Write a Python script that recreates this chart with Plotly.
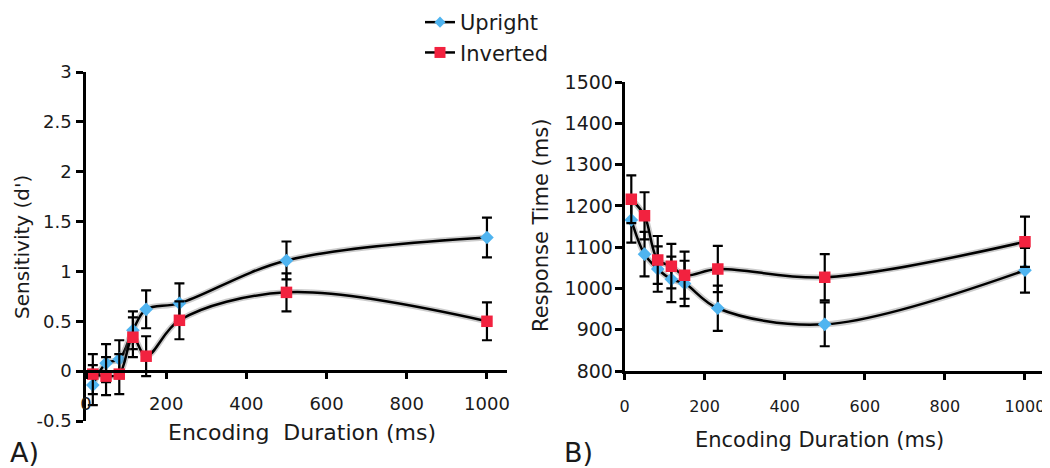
import plotly.graph_objects as go

# ---- data ----
durations = [17, 50, 83, 117, 150, 233, 500, 1000]

dprime_upright = [-0.14, 0.08, 0.12, 0.41, 0.62, 0.68, 1.11, 1.34]
dprime_upright_err = [0.20, 0.19, 0.19, 0.19, 0.19, 0.20, 0.19, 0.20]
dprime_inverted = [-0.03, -0.05, -0.03, 0.34, 0.15, 0.51, 0.79, 0.50]
dprime_inverted_err = [0.20, 0.19, 0.20, 0.20, 0.20, 0.19, 0.19, 0.19]

rt_upright = [1166, 1083, 1047, 1022, 1012, 952, 913, 1044]
rt_upright_err = [55, 54, 55, 55, 55, 55, 53, 54]
rt_inverted = [1216, 1176, 1069, 1054, 1032, 1047, 1027, 1113]
rt_inverted_err = [58, 57, 58, 54, 57, 56, 56, 61]

x_ticks = [0, 200, 400, 600, 800, 1000]
dprime_ticks = [-0.5, 0, 0.5, 1, 1.5, 2, 2.5, 3]
dprime_ticktext = ["-0.5", "0", "0.5", "1", "1.5", "2", "2.5", "3"]
rt_ticks = [800, 900, 1000, 1100, 1200, 1300, 1400, 1500]

# the page body adds an 8px margin, so the figure is drawn 8px smaller
OFF = 8
W, H = 1050 - OFF, 468 - OFF
FONT = "DejaVu Sans, Verdana, sans-serif"
BLUE = "#4FB4F0"
RED = "#F2223F"
INK = "#1a1a1a"


def px(x):
    return (x - OFF) / W


def py(y):
    # screen y (from top) -> paper fraction (from bottom)
    return 1 - (y - OFF) / H


fig = go.Figure()


def add_series(x, y, err, xa, ya, name, color, symbol, size):
    # soft shadow under the line
    fig.add_trace(go.Scatter(
        x=x, y=y, xaxis=xa, yaxis=ya, mode="lines",
        line=dict(color="rgba(110,110,110,0.35)", width=6, shape="spline", smoothing=1),
        showlegend=False, hoverinfo="skip"))
    fig.add_trace(go.Scatter(
        x=x, y=y, xaxis=xa, yaxis=ya, mode="lines+markers", name=name,
        line=dict(color="black", width=2.5, shape="spline", smoothing=1),
        marker=dict(color=color, symbol=symbol, size=size, line=dict(width=0)),
        error_y=dict(type="data", array=err, visible=True, color="black",
                     thickness=2.2, width=5),
        showlegend=False))


add_series(durations, dprime_upright, dprime_upright_err, "x", "y",
           "Upright", BLUE, "diamond", 10.5)
add_series(durations, dprime_inverted, dprime_inverted_err, "x", "y",
           "Inverted", RED, "square", 11.5)
add_series(durations, rt_upright, rt_upright_err, "x2", "y2",
           "Upright", BLUE, "diamond", 10.5)
add_series(durations, rt_inverted, rt_inverted_err, "x2", "y2",
           "Inverted", RED, "square", 11.5)

# legend-only entries (smaller symbols, as in the original legend)
for name, color, symbol, size in [("Upright", BLUE, "diamond", 8.5),
                                  ("Inverted", RED, "square", 11)]:
    fig.add_trace(go.Scatter(
        x=[None], y=[None], mode="lines+markers", name=name,
        line=dict(color="black", width=2.5),
        marker=dict(color=color, symbol=symbol, size=size, line=dict(width=0)),
        showlegend=True))

axis_common = dict(showgrid=False, zeroline=False, showline=True, linecolor="black",
                   linewidth=2.5, ticks="outside", tickcolor="black", tickwidth=2.5,
                   color=INK, automargin=False)

fig.update_layout(
    width=W, height=H,
    margin=dict(l=0, r=0, t=0, b=0, autoexpand=False),
    paper_bgcolor="white", plot_bgcolor="white",
    font=dict(family=FONT, color=INK),
    showlegend=True,
    legend=dict(x=px(420), y=1 + 6 / H, xanchor="left", yanchor="top",
                bgcolor="rgba(0,0,0,0)", borderwidth=0,
                font=dict(size=21, family=FONT, color=INK),
                tracegroupgap=0),
    xaxis=dict(domain=[px(86), px(507)], range=[0, 1050], tickvals=x_ticks,
               anchor="free", position=py(371), ticklen=6,
               tickfont=dict(size=18), ticklabelstandoff=10, **axis_common),
    yaxis=dict(domain=[py(421), py(72)], range=[-0.5, 3], tickvals=dprime_ticks,
               ticktext=dprime_ticktext, anchor="x", ticklen=7,
               tickfont=dict(size=18), ticklabelstandoff=1, **axis_common),
    xaxis2=dict(domain=[px(624.5), px(1045)], range=[0, 1050], tickvals=x_ticks,
                anchor="y2", ticklen=6, tickfont=dict(size=16),
                ticklabelstandoff=13, **axis_common),
    yaxis2=dict(domain=[py(371), py(82)], range=[800, 1500], tickvals=rt_ticks,
                anchor="x2", ticklen=7, tickfont=dict(size=19),
                ticklabelstandoff=-2, **axis_common),
)


def label(text, sx, sy, size, angle=0):
    fig.add_annotation(text=text, x=px(sx), y=py(sy), xref="paper", yref="paper",
                       xanchor="center", yanchor="middle", showarrow=False,
                       textangle=angle, font=dict(size=size, family=FONT, color=INK))


label("Sensitivity (d')", 22, 247, 20, -90)
label("Response Time (ms)", 541, 226, 21, -90)
label("Encoding  Duration (ms)", 302, 432, 22)
label("Encoding Duration (ms)", 819, 440, 21)
label("A)", 24, 452, 27)
label("B)", 578, 452, 27)

fig.write_html("out.html")
